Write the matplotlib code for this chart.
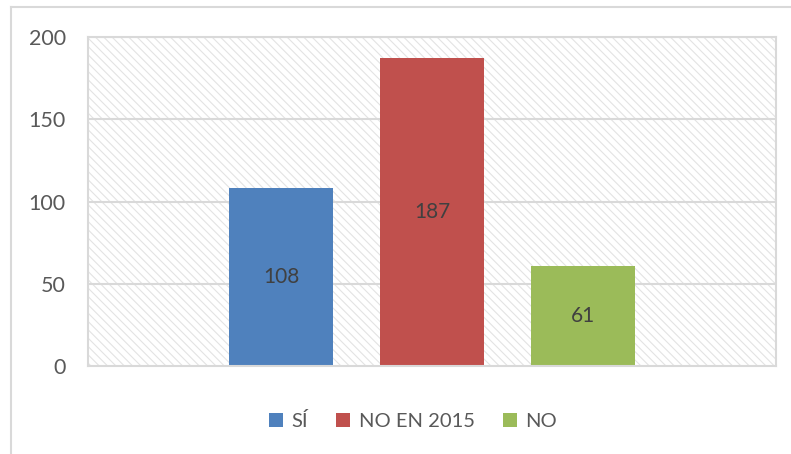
import matplotlib.pyplot as plt
from matplotlib.lines import Line2D

plt.rcParams['font.family'] = ['Lato', 'DejaVu Sans']
plt.rcParams['hatch.linewidth'] = 0.8

# Datos
series = ['SÍ', 'NO EN 2015', 'NO']
valores = [108, 187, 61]
colores = ['#4f81bd', '#c0504d', '#9bbb59']
yticks = [0, 50, 100, 150, 200]

fig = plt.figure(figsize=(7.91, 4.54), dpi=100)
ax = fig.add_axes([88 / 791, 88 / 454, 688 / 791, 329 / 454])

# Fondo rayado del área de trazado
ax.patch.set_facecolor('white')
ax.patch.set_edgecolor('#e3e3e3')
ax.patch.set_hatch('\\\\\\\\')

for y in yticks[1:]:
    ax.axhline(y, color='#d9d9d9', lw=1.5, zorder=1)

posiciones = list(range(len(series)))
barras = ax.bar(posiciones, valores, width=0.695, color=colores, label=series, zorder=2)
for b, v in zip(barras, valores):
    ax.text(b.get_x() + b.get_width() / 2, v / 2, str(v), ha='center', va='center',
            fontsize=15, color='#404040', zorder=3)

ax.set_xlim(1 - 2.278, 1 + 2.278)
ax.set_ylim(0, 200)
ax.set_yticks(yticks)
ax.set_xticks([])
ax.tick_params(axis='y', length=0, labelsize=15.5, colors='#595959', pad=16)
for s in ax.spines.values():
    s.set_color('#d9d9d9')
    s.set_linewidth(1.5)

ax.legend(handles=barras, labels=series, loc='center', bbox_to_anchor=(413 / 791, 33 / 454),
          bbox_transform=fig.transFigure, ncol=3, frameon=False, fontsize=14.5,
          handlelength=0.7, handleheight=0.7, handletextpad=0.4, columnspacing=1.4,
          labelcolor='#595959')

# Borde exterior del gráfico
fig.add_artist(Line2D([11 / 791, 11 / 791], [0, 1 - 7 / 454], color='#d9d9d9', lw=1.5))
fig.add_artist(Line2D([11 / 791, 1], [1 - 7 / 454, 1 - 7 / 454], color='#d9d9d9', lw=1.5))

fig.savefig('out.png', dpi=100)
